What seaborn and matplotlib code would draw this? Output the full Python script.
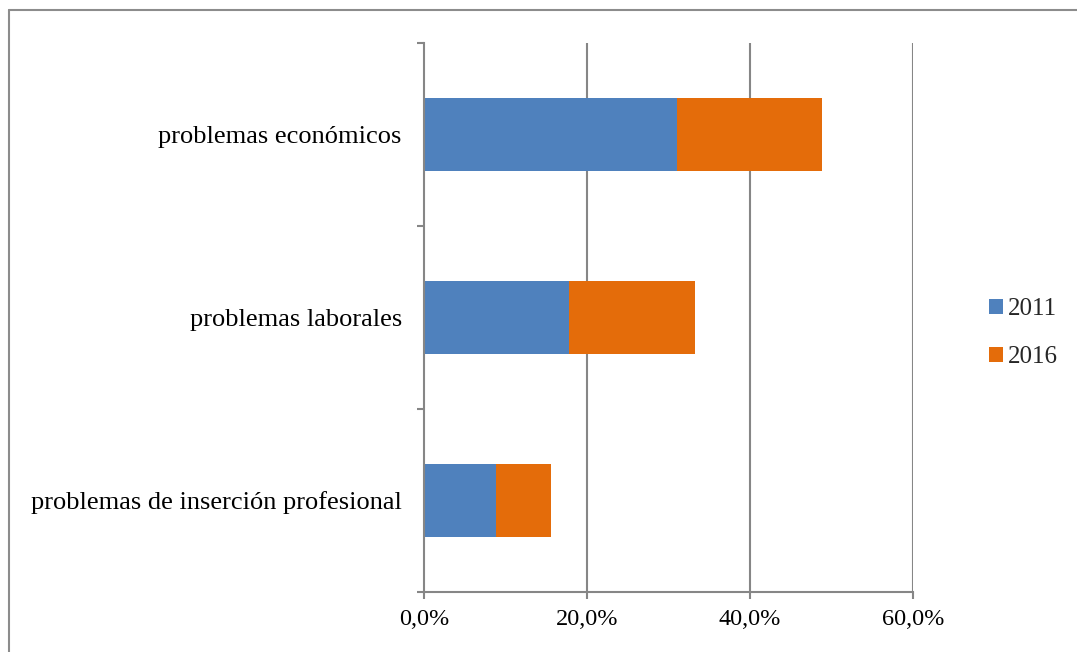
import numpy as np
import pandas as pd
from matplotlib import pyplot as plt
from matplotlib.lines import Line2D
from matplotlib.patches import Patch
from matplotlib.ticker import FuncFormatter
import seaborn as sb

categories = ["problemas económicos", "problemas laborales", "problemas de inserción profesional"]
val_2011 = [31.0, 17.8, 8.8]
val_2016 = [17.8, 15.5, 6.8]
years = ["2011", "2016"]
colors = ["#4F81BD", "#E46C0A"]
grid_color = "#868686"

sb.set_style("white")
plt.rcParams["font.family"] = ["Liberation Serif", "DejaVu Serif"]

df = pd.DataFrame({"cat": categories, "y2011": val_2011, "y2016": val_2016})
df["total"] = df["y2011"] + df["y2016"]

fig = plt.figure(figsize=(10.77, 6.52), dpi=100)
ax = fig.add_axes([424 / 1077, 1 - 592 / 652, (913 - 424) / 1077, (592 - 43) / 652])

# stacked: total (orange) first, then 2011 (blue) over it
sb.barplot(df, x="total", y="cat", orient="h", color=colors[1], width=0.4,
           saturation=1, linewidth=0, ax=ax, zorder=3)
sb.barplot(df, x="y2011", y="cat", orient="h", color=colors[0], width=0.4,
           saturation=1, linewidth=0, ax=ax, zorder=3)

ax.set_xlim(0, 60)
ax.set_ylim(2.5, -0.5)
ax.set_xticks([0, 20, 40, 60])
ax.xaxis.set_major_formatter(FuncFormatter(lambda v, p: f"{v:.1f}%".replace(".", ",")))
ax.set_xlabel("")
ax.set_ylabel("")

for v in [20, 40, 60]:
    ax.axvline(v, color=grid_color, lw=1.5, zorder=1)

for s in ["top", "right"]:
    ax.spines[s].set_visible(False)
for s in ["left", "bottom"]:
    ax.spines[s].set_color(grid_color)
    ax.spines[s].set_linewidth(1.5)
    ax.spines[s].set_zorder(4)

ax.set_yticks([0, 1, 2])
ax.set_yticks([-0.5, 0.5, 1.5, 2.5], minor=True)
ax.tick_params(axis="y", which="major", length=0, pad=16, labelsize=19, labelcolor="black")
ax.tick_params(axis="y", which="minor", length=5, width=1.5, color=grid_color, left=True)
ax.tick_params(axis="x", which="major", length=5, width=1.5, color=grid_color, pad=7,
               labelsize=17.5, labelcolor="black", bottom=True)

handles = [Patch(facecolor=c, edgecolor="none") for c in colors]
fig.legend(handles, years, loc="center left", bbox_to_anchor=(989 / 1077, 1 - 333 / 652),
           frameon=False, fontsize=18, handlelength=0.55, handleheight=0.55,
           handletextpad=0.2, labelspacing=1.05, borderpad=0, borderaxespad=0)

# outer frame (top and left only visible in the crop)
fig.add_artist(Line2D([9 / 1077, 1], [1 - 10 / 652, 1 - 10 / 652], color="#8c8c8c", lw=1.5))
fig.add_artist(Line2D([9 / 1077, 9 / 1077], [0, 1 - 10 / 652], color="#8c8c8c", lw=1.5))

fig.savefig("out.png", dpi=100, facecolor="white")
